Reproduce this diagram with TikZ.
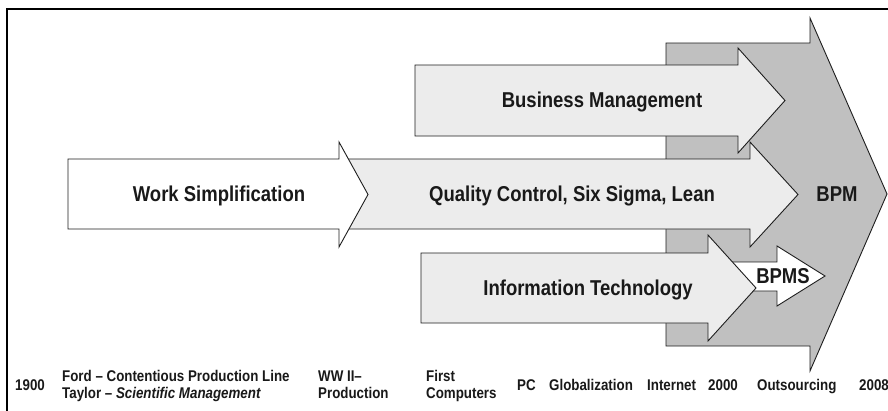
\documentclass[tikz,border=0pt]{standalone}
\usepackage{fontspec}
\setmainfont{Liberation Sans}[FakeStretch=0.86]
\definecolor{bpmgray}{RGB}{192,192,192}
\definecolor{lightfill}{RGB}{236,236,236}
\definecolor{edgecol}{RGB}{30,30,30}
\definecolor{txt}{RGB}{25,25,25}
\begin{document}
\begin{tikzpicture}[x=1pt,y=-1pt,
  blockarrow/.style={draw=edgecol, line width=0.9pt, line join=miter},
  mainlabel/.style={font=\fontsize{21.5}{24}\selectfont\bfseries, inner sep=0pt, anchor=base, text=txt},
  timelabel/.style={font=\fontsize{15.5}{17}\selectfont\bfseries, inner sep=0pt, anchor=base west, text=txt}]
\useasboundingbox (0,0) rectangle (888,410);
\clip (0,0) rectangle (888,410);
\fill[white] (0,0) rectangle (888,410);
% frame
\draw[line width=2pt, black] (6.5,430) -- (6.5,9) -- (900,9);
% BPM background arrow
\filldraw[blockarrow, fill=bpmgray] (666,43) -- (810,43) -- (810,18) -- (887,194) -- (810,371) -- (810,346) -- (666,346) -- cycle;
% Business Management
\filldraw[blockarrow, fill=lightfill] (415,65) -- (738,65) -- (738,48) -- (785,100.5) -- (738,153) -- (738,136) -- (415,136) -- cycle;
% Quality Control
\filldraw[blockarrow, fill=lightfill] (342,159) -- (750,159) -- (750,142) -- (798,194.5) -- (750,247) -- (750,229) -- (342,229) -- cycle;
% Work Simplification
\filldraw[blockarrow, fill=white] (68,159) -- (339,159) -- (339,142) -- (368,194.5) -- (339,247) -- (339,229) -- (68,229) -- cycle;
% BPMS
\filldraw[blockarrow, fill=white] (722,262) -- (777,262) -- (777,246) -- (825,276) -- (777,306) -- (777,291) -- (722,291) -- cycle;
% Information Technology
\filldraw[blockarrow, fill=lightfill] (421,253) -- (708,253) -- (708,235) -- (756,288) -- (708,341) -- (708,323) -- (421,323) -- cycle;
% main labels
\node[mainlabel] (bm) at (602,107.7) {Business Management};
\node[mainlabel] (ws) at (219,201.7) {Work Simplification};
\node[mainlabel] (qc) at (572,201.7) {Quality Control, Six Sigma, Lean};
\node[mainlabel] (it) at (588,295.7) {Information Technology};
\node[mainlabel] (bpm) at (837,201.7) {BPM};
\node[mainlabel] (bpms) at (783,283.7) {BPMS};
% timeline labels
\node[timelabel] (y1900) at (15,390.5) {1900};
\node[timelabel] (ford) at (62,381.5) {Ford – Contentious Production Line};
\node[timelabel] (taylor) at (62,398.5) {Taylor – \textit{Scientific Management}};
\node[timelabel] (ww1) at (318,381.5) {WW II–};
\node[timelabel] (ww2) at (318,398.5) {Production};
\node[timelabel] (fc1) at (426,381.5) {First};
\node[timelabel] (fc2) at (426,398.5) {Computers};
\node[timelabel] (pc) at (517,390.5) {PC};
\node[timelabel] (glob) at (549,390.5) {Globalization};
\node[timelabel] (inet) at (647,390.5) {Internet};
\node[timelabel] (y2000) at (708,390.5) {2000};
\node[timelabel] (outs) at (757,390.5) {Outsourcing};
\node[timelabel] (y2008) at (859,390.5) {2008};
\end{tikzpicture}
\end{document}
